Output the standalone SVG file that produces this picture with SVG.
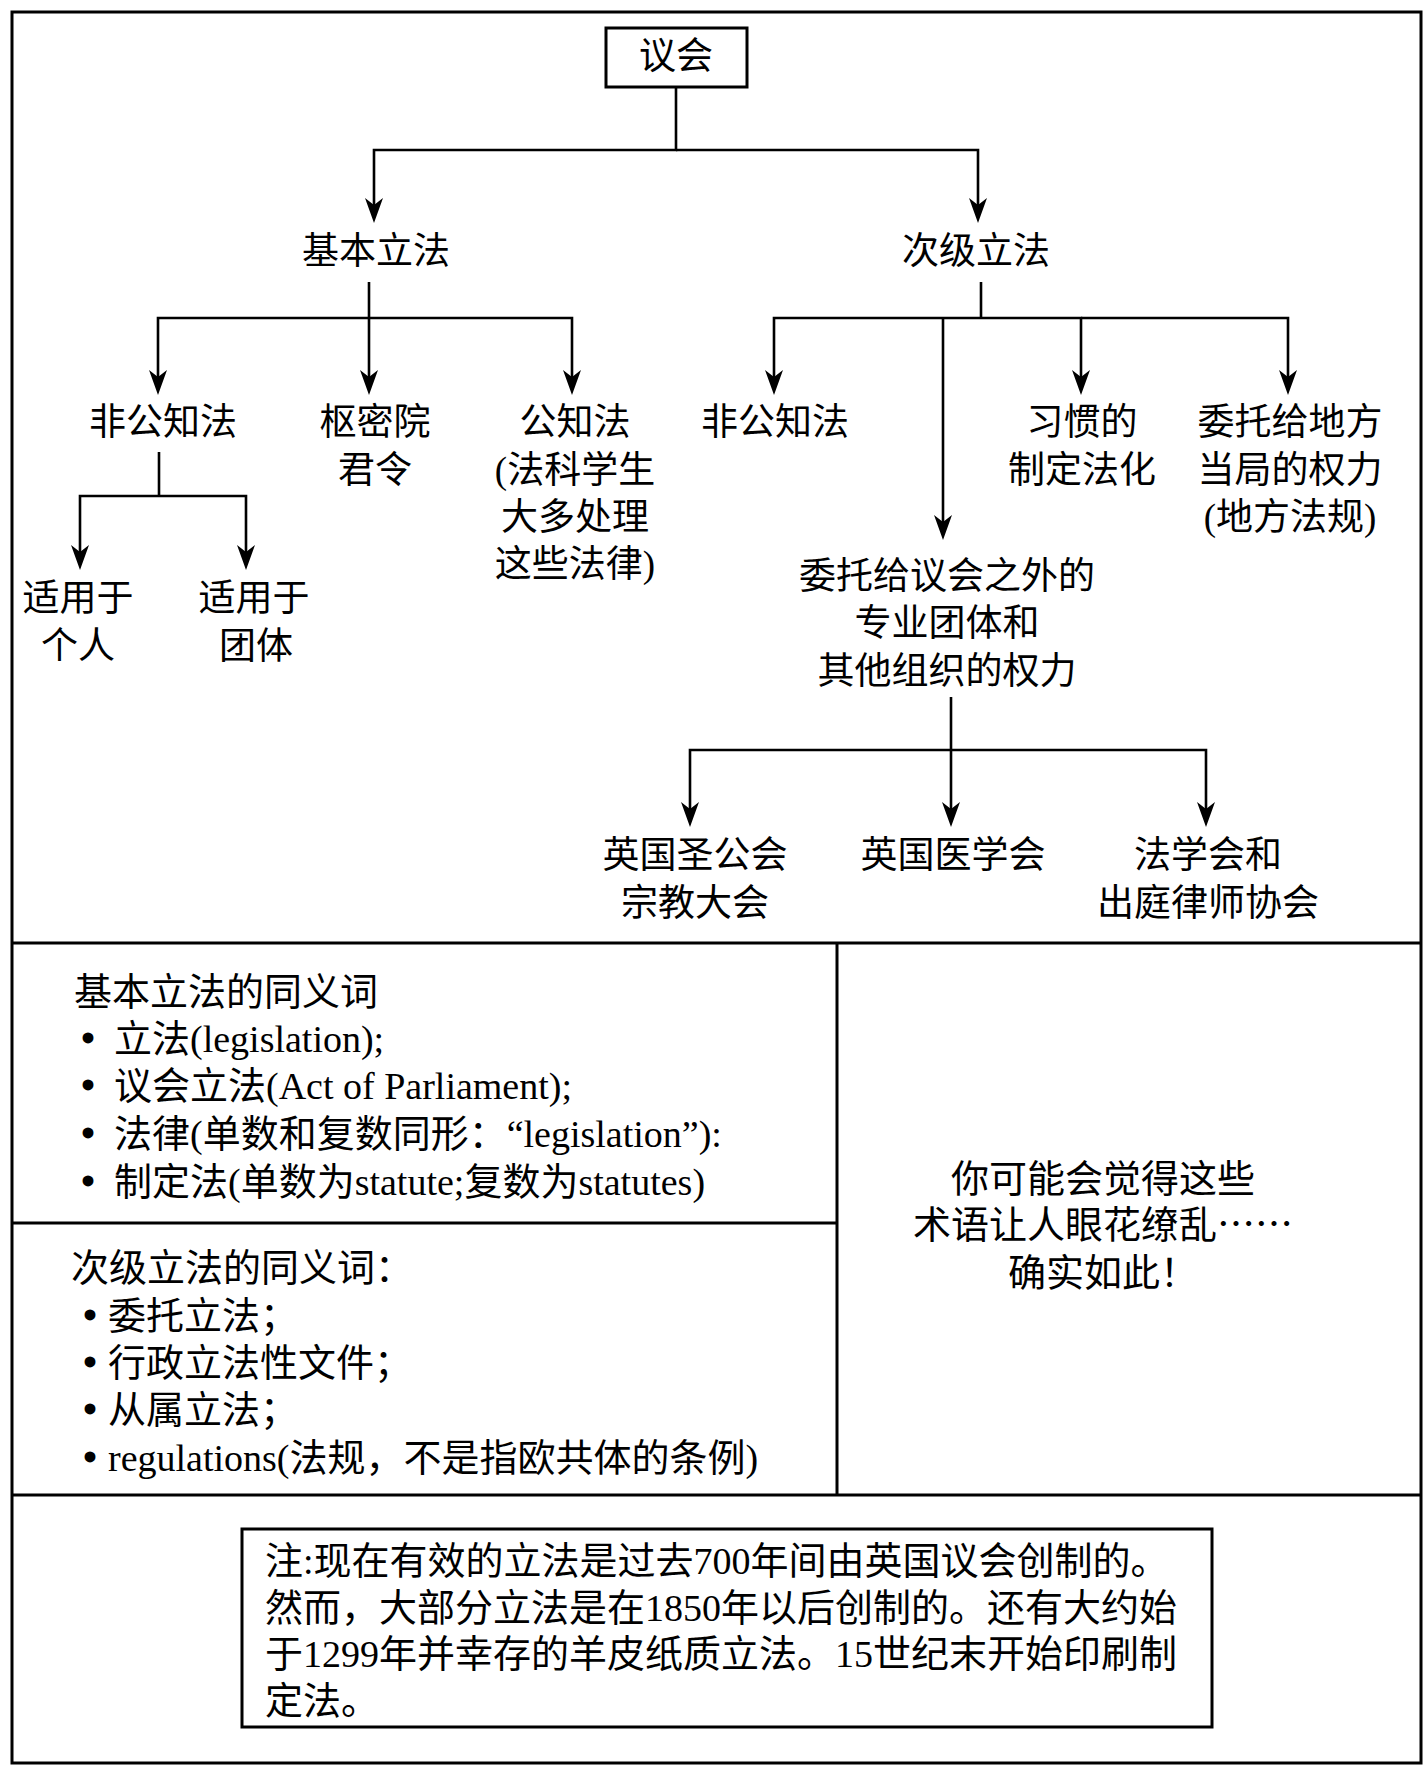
<svg xmlns="http://www.w3.org/2000/svg" width="1427" height="1784" viewBox="0 0 1427 1784">
<defs>
<style>
text{font-family:'Liberation Serif','Noto Sans CJK SC',serif;fill:#000}
.t{font-size:37px;text-anchor:middle}
.b{font-size:38px}
.c{font-size:38px;text-anchor:middle}
.bul{font-weight:bold;font-size:40px}
.cjk{font-family:'Noto Sans CJK SC',sans-serif}
.frame{fill:none;stroke:#000;stroke-width:3}
.conn path{fill:none;stroke:#000;stroke-width:2.6}
.arr{marker-end:url(#ah)}
</style>
<marker id="ah" markerUnits="userSpaceOnUse" orient="auto" refX="-6" refY="0" markerWidth="30" markerHeight="24" overflow="visible">
<path d="M0,0 L-25,-9 L-18,0 L-25,9 Z" fill="#000"/>
</marker>
</defs>
<rect x="0" y="0" width="1427" height="1784" fill="#fff"/>

<g id="frame">
<rect class="frame" x="12" y="12" width="1409" height="1751"/>
<line class="frame" x1="12" y1="943" x2="1421" y2="943"/>
<line class="frame" x1="837" y1="943" x2="837" y2="1495"/>
<line class="frame" x1="12" y1="1223" x2="837" y2="1223"/>
<line class="frame" x1="12" y1="1495" x2="1421" y2="1495"/>
</g>

<g class="conn" id="connectors">
<path class="arr" d="M676,87 V150 H374 V217"/>
<path class="arr" d="M676,150 H978 V217"/>
<path d="M369,282 V318"/>
<path class="arr" d="M369,318 H158 V389"/>
<path class="arr" d="M369,318 V389"/>
<path class="arr" d="M369,318 H572 V389"/>
<path d="M981,282 V318"/>
<path class="arr" d="M981,318 H774 V389"/>
<path class="arr" d="M943,318 V534"/>
<path class="arr" d="M981,318 H1081 V389"/>
<path class="arr" d="M1081,318 H1288 V389"/>
<path d="M159,452 V496"/>
<path class="arr" d="M159,496 H80 V564"/>
<path class="arr" d="M159,496 H246 V564"/>
<path d="M951,697 V750"/>
<path class="arr" d="M951,750 H690 V821"/>
<path class="arr" d="M951,750 V821"/>
<path class="arr" d="M951,750 H1206 V821"/>
</g>

<g id="n-parliament">
<rect class="frame" x="606" y="28" width="141" height="59" fill="#fff"/>
<text class="t" x="676" y="69">议会</text>
</g>
<g id="n-primary"><text class="t" x="376" y="264">基本立法</text></g>
<g id="n-secondary"><text class="t" x="976" y="264">次级立法</text></g>

<g id="n-private1"><text class="t" x="163" y="435">非公知法</text></g>
<g id="n-privy"><text class="t" x="375" y="435">枢密院</text><text class="t" x="375" y="483">君令</text></g>
<g id="n-public">
<text class="t" x="575" y="435">公知法</text>
<text class="t" x="575" y="483">(法科学生</text>
<text class="t" x="575" y="530">大多处理</text>
<text class="t" x="575" y="577">这些法律)</text>
</g>
<g id="n-private2"><text class="t" x="775" y="435">非公知法</text></g>
<g id="n-custom"><text class="t" x="1082" y="435">习惯的</text><text class="t" x="1082" y="483">制定法化</text></g>
<g id="n-local">
<text class="t" x="1290" y="435">委托给地方</text>
<text class="t" x="1290" y="483">当局的权力</text>
<text class="t" x="1290" y="530">(地方法规)</text>
</g>

<g id="n-individual"><text class="t" x="78" y="611">适用于</text><text class="t" x="78" y="659">个人</text></g>
<g id="n-group"><text class="t" x="254" y="611">适用于</text><text class="t" x="256" y="659">团体</text></g>

<g id="n-delegated">
<text class="t" x="947" y="589">委托给议会之外的</text>
<text class="t" x="947" y="636">专业团体和</text>
<text class="t" x="947" y="684">其他组织的权力</text>
</g>

<g id="n-synod"><text class="t" x="695" y="868">英国圣公会</text><text class="t" x="695" y="916">宗教大会</text></g>
<g id="n-bma"><text class="t" x="953" y="868">英国医学会</text></g>
<g id="n-lawsoc"><text class="t" x="1208" y="868">法学会和</text><text class="t" x="1208" y="916">出庭律师协会</text></g>

<g id="primary-synonyms">
<text class="b" x="74" y="1005">基本立法的同义词</text>
<text class="b" y="1052"><tspan class="bul" x="81">•</tspan><tspan x="114">立法(legislation);</tspan></text>
<text class="b" y="1099"><tspan class="bul" x="81">•</tspan><tspan x="114">议会立法(Act of Parliament);</tspan></text>
<text class="b" y="1147"><tspan class="bul" x="81">•</tspan><tspan x="114">法律(单数和复数同形：“legislation”):</tspan></text>
<text class="b" y="1195"><tspan class="bul" x="81">•</tspan><tspan x="114">制定法(单数为statute;复数为statutes)</tspan></text>
</g>

<g id="secondary-synonyms">
<text class="b" x="71" y="1281">次级立法的同义词：</text>
<text class="b" y="1329"><tspan class="bul" x="83">•</tspan><tspan x="108">委托立法；</tspan></text>
<text class="b" y="1376"><tspan class="bul" x="83">•</tspan><tspan x="108">行政立法性文件；</tspan></text>
<text class="b" y="1423"><tspan class="bul" x="83">•</tspan><tspan x="108">从属立法；</tspan></text>
<text class="b" y="1471"><tspan class="bul" x="83">•</tspan><tspan x="108">regulations(法规，不是指欧共体的条例)</tspan></text>
</g>

<g id="remark">
<text class="c" x="1103" y="1192">你可能会觉得这些</text>
<text class="c" x="1103" y="1238">术语让人眼花缭乱<tspan class="cjk">……</tspan></text>
<text class="c" x="1103" y="1286">确实如此！</text>
</g>

<g id="note">
<rect class="frame" x="242" y="1529" width="970" height="198"/>
<text class="b" x="265" y="1574">注:现在有效的立法是过去700年间由英国议会创制的。</text>
<text class="b" x="265" y="1621">然而，大部分立法是在1850年以后创制的。还有大约始</text>
<text class="b" x="265" y="1667">于1299年并幸存的羊皮纸质立法。15世纪末开始印刷制</text>
<text class="b" x="265" y="1714">定法。</text>
</g>
</svg>
